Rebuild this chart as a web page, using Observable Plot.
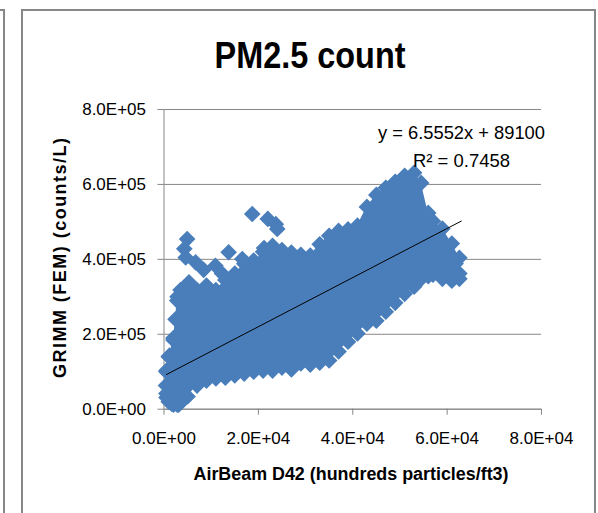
<!DOCTYPE html>
<html><head><meta charset="utf-8">
<script src="https://cdn.jsdelivr.net/npm/d3@7"></script>
<script src="https://cdn.jsdelivr.net/npm/@observablehq/plot@0.6"></script>
<style>
body{margin:0;background:#fff;}
#wrap{position:relative;width:598px;height:513px;overflow:hidden;font-family:"Liberation Sans",Arial,sans-serif;}
#leftbox{position:absolute;left:-10px;top:9px;width:15px;height:600px;border:2px solid #878787;box-sizing:border-box;}
#frame{position:absolute;left:21px;top:9px;width:575px;height:600px;border:2px solid #878787;box-sizing:border-box;}
#chart{position:absolute;left:0;top:0;}
#overlay{position:absolute;left:0;top:0;}
</style></head><body>
<div id="wrap"><div id="leftbox"></div><div id="frame"></div><div id="chart"></div>
<svg id="overlay" width="598" height="513" font-family="Liberation Sans, Arial, sans-serif">
  <text x="310" y="68" text-anchor="middle" font-weight="bold" font-size="36" textLength="191" lengthAdjust="spacingAndGlyphs">PM2.5 count</text>
  <text x="351" y="479.5" text-anchor="middle" font-weight="bold" font-size="17.5" textLength="315" lengthAdjust="spacingAndGlyphs">AirBeam D42 (hundreds particles/ft3)</text>
  <text transform="translate(66,258) rotate(-90)" text-anchor="middle" font-weight="bold" font-size="18" textLength="240" lengthAdjust="spacing">GRIMM (FEM) (counts/L)</text>
  <text x="461.5" y="139" text-anchor="middle" font-size="18.5" textLength="167" lengthAdjust="spacingAndGlyphs">y = 6.5552x + 89100</text>
  <text x="461.5" y="167" text-anchor="middle" font-size="18.5" textLength="97" lengthAdjust="spacingAndGlyphs">R² = 0.7458</text>
</svg></div>
<script>
// axis ticks
const xTicks = [0, 20000, 40000, 60000, 80000];
const yTicks = [0, 200000, 400000, 600000, 800000];

// main body of the point cloud: column x, lower and upper edge (marker centres)
const cloudX    = [500, 1000, 2000, 2800, 3500, 5000, 7000, 9000, 11000, 13000, 15000, 17000, 19000, 21000, 23000, 25000, 27000, 29000, 31000, 33000, 35000, 37000, 39000, 41000, 43000, 45000, 47000, 49000, 51000, 53000, 54500, 56000, 57000, 59000, 61000, 62600];
const cloudLow  = [42000, 20000, 12000, 12000, 18000, 34000, 63000, 76000, 82000, 84000, 90000, 95000, 100000, 103000, 103000, 111000, 106000, 122000, 119000, 124000, 130000, 154000, 180000, 202000, 228000, 236000, 260000, 284000, 308000, 327000, 348000, 355000, 359000, 348000, 343000, 348000];
const cloudHigh = [100000, 140000, 185000, 290000, 318000, 330000, 318000, 330000, 318000, 345000, 362000, 388000, 390000, 420000, 436000, 425000, 418000, 412000, 410000, 440000, 463000, 476000, 480000, 490000, 540000, 572000, 591000, 607000, 623000, 631000, 604000, 524000, 502000, 482000, 442000, 404000];

// separate markers along the left edge and outlying markers
const edgeX = [2860, 2440, 2000, 1170, 530, 420, 530, 1600, 3100, 4900, 4300, 4600, 6700, 8400, 10900, 12300, 13700, 16600, 19000, 18700, 22000, 23700, 24000, 21200, 5300, 62600, 61800];
const edgeY = [300000, 240000, 190000, 143000, 103000, 63000, 31000, 15000, 12000, 454000, 428000, 405000, 392000, 372000, 383000, 362000, 419000, 401000, 397000, 521000, 508000, 494000, 481000, 430000, 339000, 362000, 389000];

// linear trend line end points
const trendX = [500, 63000];
const trendY = [92400, 502100];

const blue = "#4A7EBB";
const gray = "#878787";

const sci = v => {
  const [m, e] = v.toExponential(1).split("e");
  const n = +e;
  return m + "E" + (n < 0 ? "-" : "+") + String(Math.abs(n)).padStart(2, "0");
};

const cloud = cloudX.map((x, i) => ({x, low: cloudLow[i], high: cloudHigh[i]}));
const edges = edgeX.map((x, i) => ({x, y: edgeY[i]}));
const trend = trendX.map((x, i) => ({x, y: trendY[i]}));

const chart = Plot.plot({
  width: 598, height: 513,
  marginLeft: 163.5, marginRight: 57, marginTop: 109, marginBottom: 104.3,
  style: {fontFamily: "Liberation Sans, Arial, sans-serif", fontSize: "17px", background: "transparent", color: "#000", overflow: "visible"},
  x: {domain: [0, 80000]},
  y: {domain: [0, 800000]},
  marks: [
    Plot.gridY(yTicks, {stroke: gray, strokeOpacity: 1}),
    Plot.ruleX([0], {stroke: gray}),
    Plot.ruleY([0], {stroke: gray}),
    Plot.axisX(xTicks, {tickSize: 6, tickPadding: 17, tickFormat: sci, stroke: gray, fill: "#000", label: null}),
    Plot.axisY(yTicks, {tickSize: 6, tickPadding: 12, tickFormat: sci, stroke: gray, fill: "#000", label: null}),
    Plot.areaY(cloud, {x: "x", y1: "low", y2: "high", fill: blue}),
    Plot.dot(cloud, {x: "x", y: "high", symbol: "diamond2", r: 7.5, fill: blue}),
    Plot.dot(cloud, {x: "x", y: "low", symbol: "diamond2", r: 7.5, fill: blue}),
    Plot.dot(edges, {x: "x", y: "y", symbol: "diamond2", r: 7.5, fill: blue}),
    Plot.line(trend, {x: "x", y: "y", stroke: "#000", strokeWidth: 1})
  ]
});
document.getElementById("chart").appendChild(chart);
</script>
</body></html>
